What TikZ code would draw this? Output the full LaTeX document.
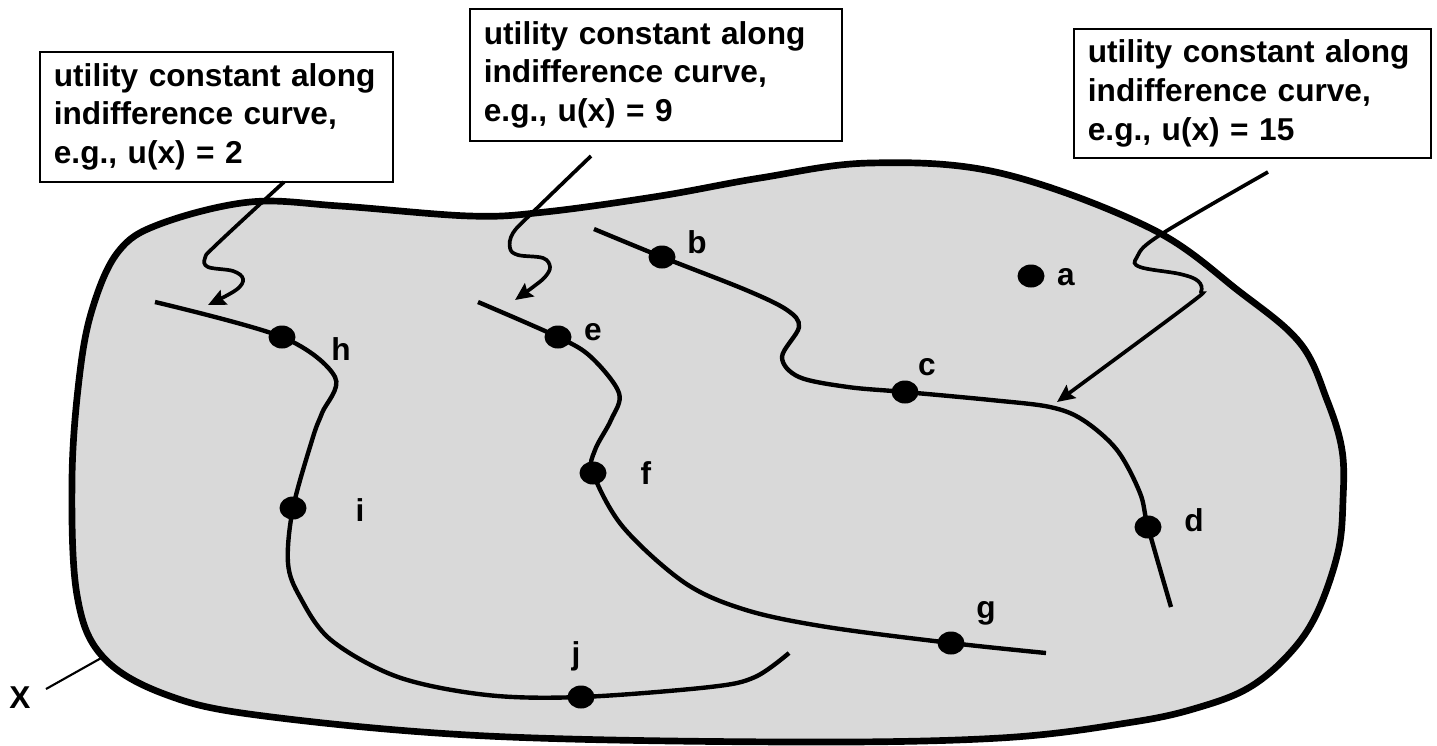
\documentclass[tikz,border=0pt]{standalone}
\usepackage{fontspec}
\setmainfont{Liberation Sans}
\usetikzlibrary{arrows.meta,shapes.geometric}
\definecolor{setgray}{RGB}{217,217,217}
\begin{document}
\begin{tikzpicture}[x=0.02cm,y=-0.02cm,
  txt/.style={font=\fontsize{18}{22.1}\selectfont\bfseries},
  callout/.style={txt,draw=black,line width=1pt,fill=white,anchor=north west,
    align=left,inner xsep=0.28cm,inner ysep=0pt},
  setline/.style={draw=black,fill=setgray,line width=3.8pt},
  icurve/.style={draw=black,line width=2.5pt},
  callarrow/.style={draw=black,line width=2.1pt,
    -{Stealth[length=10pt,width=9pt,inset=1.5pt]}},
  dot/.style={ellipse,fill=black,inner sep=0pt,minimum width=0.54cm,minimum height=0.46cm},
  lbl/.style={txt,inner sep=0pt}]
\useasboundingbox (0,0) rectangle (1437,745);

% the choice set X
\path[setline] plot[smooth cycle,tension=0.6] coordinates {
  (92,310) (118,252) (160,224) (250,202) (340,206) (470,216) (545,212)
  (660,196) (760,178) (870,163) (1000,173) (1150,228) (1240,292)
  (1300,343) (1327,400) (1342,450) (1343,500) (1338,552) (1317,613)
  (1290,653) (1250,687) (1200,707) (1133,722) (1000,738) (790,742)
  (487,736) (264,716) (167,695) (103,657) (77,595) (72,480) (79,380)};

% indifference curves
\draw[icurve] plot[smooth,tension=0.55] coordinates {
  (155,302) (282,337) (335,377) (322,413) (313,437) (293,508) (288,563)
  (300,597) (331,640) (398,677) (487,695) (581,697) (710,687) (755,677) (789,653)};
\draw[icurve] plot[smooth,tension=0.55] coordinates {
  (478,302) (558,337) (591,357) (619,393) (611,420) (595,450) (593,473)
  (623,527) (685,583) (746,610) (827,627) (951,643) (1046,653)};
\draw[icurve] plot[smooth,tension=0.55] coordinates {
  (594,229) (662,257) (746,290) (787,310) (799,327) (782,357) (799,377)
  (848,387) (905,392) (991,400) (1050,407) (1083,420) (1117,450)
  (1140,493) (1148,527) (1171,607)};

% bundles
\node[dot] (pa) at (1031,276) {};
\node[dot] (pb) at (662,257) {};
\node[dot] (pc) at (905,392) {};
\node[dot] (pd) at (1148,527) {};
\node[dot] (pe) at (558,337) {};
\node[dot] (pf) at (593,473) {};
\node[dot] (pg) at (951,643) {};
\node[dot] (ph) at (282,337) {};
\node[dot] (pi) at (293,508) {};
\node[dot] (pj) at (581,697) {};

\node[lbl] (la) at (1066,277) {a};
\node[lbl] (lb) at (697,242) {b};
\node[lbl] (lc) at (927,367) {c};
\node[lbl] (ld) at (1194,520) {d};
\node[lbl] (le) at (593,332) {e};
\node[lbl] (lf) at (646,473) {f};
\node[lbl] (lg) at (986,613) {g};
\node[lbl] (lh) at (341,349) {h};
\node[lbl] (li) at (360,510) {i};
\node[lbl] (lj) at (576,656) {j};

% label of the set
\node[lbl] (X) at (20,698) {X};
\coordinate (xb) at (103,657);
\draw[line width=1.2pt] (X) ++(26,-9) -- (xb);

% callout boxes
\node[callout,text width=6.5cm,minimum height=2.6cm] (box1) at (39,51)
  {utility constant along\\indifference curve,\\e.g., u(x) = 2};
\node[callout,text width=6.88cm,minimum height=2.64cm] (box2) at (469,8)
  {utility constant along\\indifference curve,\\e.g., u(x) = 9};
\node[callout,text width=6.58cm,minimum height=2.58cm] (box3) at (1073,28)
  {utility constant along\\indifference curve,\\e.g., u(x) = 15};

% wiggly pointers from the boxes to the curves
\coordinate (s1) at (284,182);
\coordinate (t1) at (208,305);
\coordinate (s2) at (591,156);
\coordinate (t2) at (515,300);
\coordinate (s3) at (1268,172);
\coordinate (t3) at (1057,402);
\draw[callarrow] plot[smooth,tension=0.6] coordinates {
  (s1) (216,245) (205,258) (208,267) (233,271) (243,279) (236,290) (t1)};
\draw[callarrow] plot[smooth,tension=0.6] coordinates {
  (s2) (532,213) (513,233) (510,248) (518,255) (543,258) (550,267) (545,277) (533,287) (t2)};
\draw[callarrow] plot[smooth,tension=0.6] coordinates {
  (s3) (1160,235) (1137,257) (1140,267) (1180,274) (1198,281) (1201,292) (1188,305) (t3)};
\end{tikzpicture}
\end{document}
